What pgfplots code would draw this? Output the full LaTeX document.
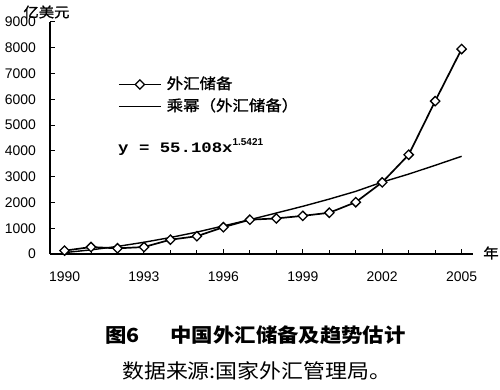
\documentclass[border=0pt]{standalone}
\usepackage{fontspec}
\usepackage{pgfplots}
\pgfplotsset{compat=1.18}
\setmainfont{Liberation Sans}
\newfontfamily\cjk{Noto Sans CJK SC}[FakeStretch=1.1]
\newfontfamily\cjkl{Noto Sans CJK SC}[FakeStretch=1.1, FakeBold=1.2]
\newfontfamily\eqfont{Liberation Mono}[FakeStretch=1.2]
\begin{document}
\begin{tikzpicture}
\path[use as bounding box] (0bp,0bp) rectangle (500bp,390bp);
\begin{axis}[
  at={(50bp,136bp)}, anchor=south west, scale only axis,
  width=423bp, height=232bp,
  xmin=1989.45, xmax=2005.43, ymin=0, ymax=9000,
  axis x line=bottom, axis y line=left,
  axis line style={-, line width=1.5bp},
  tick align=inside, major tick length=5bp, minor tick length=4bp,
  every tick/.style={line width=1bp, black},
  xtick={1990,1993,...,2005}, minor xtick={1990,...,2005},
  ytick={0,1000,...,9000},
  /pgf/number format/1000 sep={},
  /pgf/number format/assume math mode=true,
  xticklabel style={font=\fontsize{14}{14}\selectfont, inner sep=0pt, anchor=north, yshift=-18bp},
  yticklabel style={font=\fontsize{14}{14}\selectfont, inner sep=0pt, anchor=east, xshift=-14bp},
  clip=false,
  legend cell align=left,
  legend image code/.code={\draw[mark repeat=2,mark phase=2,#1] plot coordinates {(0bp,0bp) (21bp,0bp) (42bp,0bp)};},
  legend style={at={(axis description cs:0.1608,0.7586)}, anchor=north west,
    draw=none, fill=none, inner sep=0pt, outer sep=0pt, row sep=9bp, column sep=5bp,
    nodes={inner sep=0pt, font=\cjkl\fontsize{15}{15}\selectfont, text height=11bp, text depth=2bp}},
]
\addplot[black, line width=1.7bp, mark=square*, mark size=3.3bp,
  mark options={rotate=45, fill=white, line width=1.3bp}] coordinates {
  (1990,130) (1991,270) (1992,220) (1993,270) (1994,555) (1995,690)
  (1996,1040) (1997,1330) (1998,1380) (1999,1480) (2000,1600) (2001,2010)
  (2002,2780) (2003,3850) (2004,5930) (2005,7950)};
\addlegendentry{外汇储备}
\addplot[black, line width=1.4bp] coordinates {
  (1990,55) (1991,160) (1992,295) (1993,455) (1994,640) (1995,850)
  (1996,1090) (1997,1330) (1998,1590) (1999,1850) (2000,2130) (2001,2430)
  (2002,2790) (2003,3100) (2004,3440) (2005,3790)};
\addlegendentry{乘幂（外汇储备）}
\end{axis}
\node[anchor=base west, inner sep=0pt] at (118bp,237bp)
  {\eqfont\bfseries\fontsize{14.5}{15}\selectfont y = 55.108x\raisebox{7bp}{\rmfamily\bfseries\fontsize{10}{10}\selectfont 1.5421}};
\node[inner sep=0pt] at (46.5bp,378bp) {\cjkl\fontsize{14}{14}\selectfont 亿美元};
\node[inner sep=0pt] at (491bp,137bp) {\cjkl\fontsize{14}{14}\selectfont 年};
\node[anchor=west, inner sep=0pt] at (105bp,55bp)
  {\cjk\bfseries\fontsize{19.5}{20}\selectfont 图6\hspace{31bp}中国外汇储备及趋势估计};
\node[anchor=west, inner sep=0pt] at (122bp,19bp)
  {\cjk\fontsize{20}{20}\selectfont 数据来源:国家外汇管理局。};
\end{tikzpicture}
\end{document}
